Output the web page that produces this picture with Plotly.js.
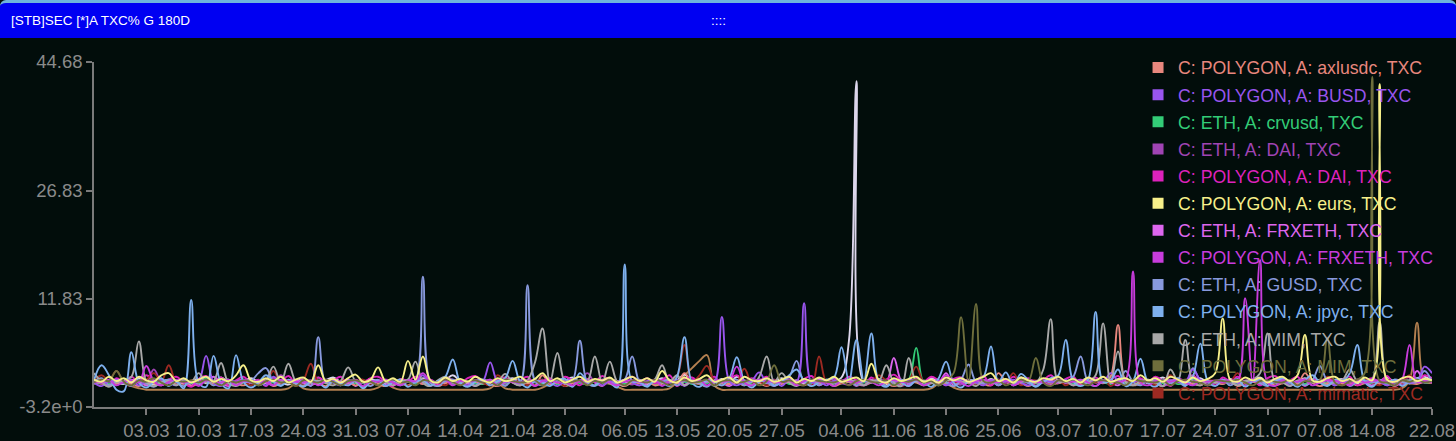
<!DOCTYPE html>
<html>
<head>
<meta charset="utf-8">
<script src="https://cdn.plot.ly/plotly-3.0.1.min.js"></script>
<style>
  html, body { margin:0; padding:0; background:#020d0b; overflow:hidden; }
  #wrap { position:relative; width:1456px; height:441px; background:#020d0b; }
  #hdr { position:absolute; left:0; top:0; width:1456px; height:38px; background:#0000f2;
         border-top:3px solid #6fb4dc; box-sizing:border-box; border-radius:6px 6px 0 0;
         font-family:"Liberation Sans", Arial, sans-serif; color:#fff; font-size:13.5px; z-index:5; }
  #hdr .t { position:absolute; left:11px; top:10px; }
  #hdr .d { position:absolute; left:711px; top:10px; }
  #chart { position:absolute; left:0; top:0; width:1456px; height:441px; }
</style>
</head>
<body>
<div id="wrap">
  <div id="chart"></div>
  <div id="hdr"><span class="t">[STB]SEC [*]A TXC% G 180D</span><span class="d">::::</span></div>
</div>
<script>
// ---------- data ----------
const startDate = '2023-02-24';
const nDays = 180;

const tickDates = ['2023-03-03','2023-03-10','2023-03-17','2023-03-24','2023-03-31','2023-04-07','2023-04-14',
  '2023-04-21','2023-04-28','2023-05-06','2023-05-13','2023-05-20','2023-05-27','2023-06-04','2023-06-11',
  '2023-06-18','2023-06-25','2023-07-03','2023-07-10','2023-07-17','2023-07-24','2023-07-31','2023-08-07',
  '2023-08-14','2023-08-22'];
const tickLabels = ['03.03','10.03','17.03','24.03','31.03','07.04','14.04','21.04','28.04','06.05','13.05',
  '20.05','27.05','04.06','11.06','18.06','25.06','03.07','10.07','17.07','24.07','31.07','07.08','14.08','22.08'];

const yTickVals = [-3.2, 11.83, 26.83, 44.68];
const yTickText = ['-3.2e+0', '11.83', '26.83', '44.68'];

const seriesNames = [
  'C: POLYGON, A: axlusdc, TXC','C: POLYGON, A: BUSD, TXC','C: ETH, A: crvusd, TXC','C: ETH, A: DAI, TXC',
  'C: POLYGON, A: DAI, TXC','C: POLYGON, A: eurs, TXC','C: ETH, A: FRXETH, TXC','C: POLYGON, A: FRXETH, TXC',
  'C: ETH, A: GUSD, TXC','C: POLYGON, A: jpyc, TXC','C: ETH, A: MIM, TXC','C: POLYGON, A: MIM, TXC',
  'C: POLYGON, A: mimatic, TXC'];
const extraNames = ['C: ETH, A: USDC, TXC', 'C: POLYGON, A: USDC, TXC'];

const axlusdc = [
 0.0,0.3,-0.2,0.1,0.4,0.0,-0.3,0.2,0.1,-0.2,
 0.3,0.0,0.2,-0.3,0.1,0.4,0.0,-0.2,0.3,0.1,
 -0.2,0.2,0.0,0.4,-0.3,0.1,0.3,0.0,-0.2,0.2,
 0.1,-0.3,0.3,0.0,0.2,-0.2,0.4,0.1,0.0,-0.3,
 0.2,0.1,-0.2,0.3,0.0,0.4,-0.3,0.1,0.2,0.0,
 -0.2,0.3,0.1,0.0,-0.3,0.2,0.4,0.0,0.1,-0.2,
 1.2,0.0,0.2,-0.3,0.1,0.3,0.0,-0.2,0.4,0.1,
 0.0,-0.3,0.2,0.1,0.3,-0.2,0.0,0.4,0.1,1.5,
 0.2,0.0,-0.3,0.3,0.1,0.0,0.2,-0.2,0.4,0.1,
 -0.3,0.2,0.0,0.3,0.1,-0.2,0.4,0.0,0.2,-0.3,
 0.1,0.3,0.0,-0.2,0.2,0.4,0.1,-0.3,0.0,0.3,
 0.2,-0.2,0.1,0.4,0.0,-0.3,0.3,0.1,0.2,0.0,
 -0.2,1.5,0.3,0.0,0.1,-0.3,0.2,0.4,0.0,0.1,
 0.3,-0.2,0.0,0.2,0.4,0.1,1.0,8.2,0.3,-0.2,
 0.1,0.3,0.0,-0.3,0.2,0.4,0.1,0.0,-0.2,0.3,
 0.2,0.0,0.4,-0.3,0.1,0.3,0.0,0.2,-0.2,0.1,
 0.4,0.0,1.5,0.2,-0.3,0.1,0.3,0.0,0.2,-0.2,
 0.1,0.4,0.0,0.3,-0.3,0.2,0.1,0.0,0.3,0.2];

const busd = [
 0.2,-0.3,0.4,0.6,0.2,0.5,-0.2,0.3,0.4,0.6,
 0.2,-0.2,0.5,0.3,0.4,3.9,0.2,-0.3,0.5,0.3,
 0.6,0.2,0.4,-0.2,1.0,0.3,0.5,0.2,-0.3,0.4,
 0.3,0.6,0.2,-0.2,0.5,0.4,0.3,0.2,0.6,-0.2,
 0.4,0.3,0.5,0.2,1.2,-0.3,0.4,0.6,0.2,0.3,
 -0.2,0.5,0.4,3.0,0.3,0.2,0.6,-0.2,0.4,0.3,
 0.5,0.2,-0.3,0.4,0.6,0.3,0.2,0.5,-0.2,0.4,
 0.3,0.6,0.2,-0.2,0.4,0.5,0.3,0.2,0.6,-0.3,
 0.4,0.3,0.5,0.2,9.3,0.4,-0.2,0.3,0.5,1.6,
 0.2,0.4,-0.3,0.6,0.3,11.2,0.2,0.4,-0.2,0.5,
 0.3,0.6,0.2,-0.2,0.4,0.5,0.3,0.2,-0.3,0.6,
 0.4,0.3,0.2,0.5,-0.2,0.4,0.6,0.3,0.2,-0.2,
 0.5,0.4,0.3,0.6,0.2,-0.2,0.4,0.5,0.3,0.2,
 0.6,-0.2,0.4,0.3,0.5,0.2,1.5,0.4,-0.2,0.3,
 0.5,0.2,0.6,-0.3,0.4,0.3,0.2,2.0,0.5,-0.2,
 0.4,0.6,0.3,0.2,-0.2,0.5,0.4,0.3,0.2,0.6,
 -0.2,0.4,0.5,0.3,0.2,0.6,-0.2,0.4,0.3,0.5,
 0.2,0.6,0.3,-0.2,0.4,0.5,0.2,0.3,2.4,1.5];

const crvusd = [
 0.1,0.2,0.0,0.3,0.1,0.6,0.2,0.0,0.3,0.1,
 0.2,0.0,0.4,0.1,0.2,0.8,0.0,0.3,0.1,0.2,
 0.4,0.1,0.0,0.3,0.2,0.1,0.5,0.0,0.2,0.3,
 0.9,0.1,0.2,0.0,0.3,0.1,0.4,0.2,0.0,0.3,
 0.1,0.2,0.6,0.0,0.3,0.1,0.2,0.4,0.0,0.2,
 0.3,0.1,0.0,0.4,0.2,0.1,0.3,0.0,0.5,0.2,
 0.1,0.3,0.0,0.2,0.4,0.1,0.0,0.3,0.2,0.1,
 0.4,0.0,0.2,0.1,0.3,0.0,0.2,0.5,0.1,0.3,
 0.0,0.2,0.1,0.4,0.0,0.3,0.2,0.1,0.0,0.3,
 0.2,0.1,0.4,0.0,0.2,0.3,0.1,0.0,0.4,0.2,
 0.1,0.3,0.0,0.2,0.5,0.1,0.3,0.0,0.2,0.6,
 5.0,0.2,0.1,0.3,0.0,0.2,0.4,0.1,0.0,0.3,
 0.2,0.1,0.5,0.0,0.3,0.2,0.1,0.4,0.0,0.2,
 0.3,0.0,0.2,0.1,0.4,0.2,0.0,0.3,0.1,0.2,
 0.0,0.4,0.2,0.1,0.3,0.0,0.2,0.8,0.1,0.3,
 0.2,0.0,0.3,0.1,0.2,0.4,0.0,0.2,0.1,0.3,
 0.1,0.2,0.0,0.4,0.2,0.1,0.3,0.0,0.2,0.5,
 0.2,0.1,0.3,0.0,0.2,0.4,0.1,0.6,0.2,0.3];

const ethDai = [
 0.2,0.4,0.1,0.6,0.3,-0.1,0.5,0.2,2.0,0.3,
 0.1,0.4,0.6,0.2,-0.1,0.5,0.3,0.2,0.4,0.1,
 0.6,0.3,-0.1,0.4,0.2,1.2,0.3,0.5,0.1,0.4,
 0.2,0.6,0.3,-0.1,0.4,0.2,0.5,0.3,0.1,0.6,
 0.3,-0.1,0.5,0.2,0.4,0.6,0.1,0.3,-0.1,0.5,
 0.2,0.4,0.3,0.6,0.1,-0.1,0.5,0.2,0.4,0.3,
 0.6,0.1,0.3,-0.1,0.5,0.4,1.5,0.2,0.3,0.6,
 0.1,0.4,-0.1,0.5,0.3,0.2,0.6,0.4,0.1,-0.1,
 0.5,0.3,0.2,0.6,0.4,0.1,0.3,-0.1,0.5,0.2,
 0.4,0.6,0.1,0.3,-0.1,0.5,0.2,0.4,0.3,0.6,
 0.1,-0.1,0.5,0.3,0.2,0.4,0.6,0.1,0.3,-0.1,
 0.5,0.2,0.4,0.3,0.6,0.1,-0.1,0.5,0.2,0.4,
 0.3,0.6,0.1,0.4,-0.1,0.5,0.3,0.2,0.6,0.4,
 0.1,0.3,-0.1,0.5,0.2,0.4,0.6,0.1,0.3,-0.1,
 0.5,0.4,0.2,0.3,0.6,0.1,-0.1,0.5,0.3,0.2,
 0.4,0.6,0.1,-0.1,0.5,0.3,0.2,0.4,0.6,0.1,
 0.3,-0.1,0.5,0.2,0.4,0.6,0.1,0.3,-0.1,0.5,
 0.2,0.4,0.3,0.6,0.1,-0.1,0.5,0.3,0.2,0.4];

const polyDai = [
 0.5,0.1,-0.3,0.8,0.2,1.0,0.3,1.2,0.4,-0.2,
 0.6,1.0,0.2,-0.4,0.7,1.1,0.3,0.9,-0.2,0.5,
 1.0,0.2,0.6,-0.3,0.8,0.4,1.1,0.1,0.7,-0.2,
 0.9,0.3,0.5,1.0,-0.2,0.6,0.2,0.8,1.0,0.3,
 -0.3,0.7,0.4,1.0,0.2,0.6,-0.2,0.9,0.5,0.1,
 0.8,1.1,0.3,-0.2,0.6,0.9,0.2,0.5,1.0,-0.3,
 0.4,0.8,0.2,1.0,0.5,-0.2,0.7,0.3,1.1,0.4,
 -0.2,0.6,1.0,0.3,0.8,0.1,0.5,1.2,-0.3,0.7,
 0.9,0.2,0.5,1.0,-0.2,0.6,1.2,0.3,0.8,0.4,
 1.0,-0.3,0.5,0.9,0.2,0.7,1.1,-0.2,0.4,0.8,
 0.3,1.0,0.5,-0.2,0.9,0.2,0.6,1.3,0.4,-0.3,
 0.8,0.3,1.0,0.5,-0.2,0.7,0.9,0.2,0.5,1.1,
 -0.2,0.6,0.3,1.0,0.4,0.8,-0.3,0.5,1.2,0.2,
 0.7,1.0,-0.2,0.4,0.9,0.3,0.6,1.1,-0.2,0.5,
 0.8,0.2,1.0,0.4,-0.3,0.7,0.5,1.2,0.2,0.6,
 -0.2,0.9,0.4,1.0,0.3,0.6,-0.2,0.8,1.1,0.2,
 0.5,1.0,-0.3,0.7,0.4,0.9,0.2,0.6,1.0,-0.2,
 0.4,0.8,0.3,1.1,-0.2,0.6,0.9,0.3,1.2,0.8];

const eurs = [
 0.6,0.3,1.0,0.4,0.8,0.2,1.0,0.5,0.3,1.2,
 1.5,0.4,0.8,0.2,0.6,1.0,0.3,0.7,0.4,1.2,
 2.6,0.5,0.3,0.8,0.4,1.0,0.2,0.6,0.9,0.3,
 2.6,0.4,0.7,0.2,0.8,1.3,0.3,0.6,2.3,0.4,
 0.8,0.3,3.2,0.6,3.8,0.5,0.2,0.9,0.4,0.7,
 0.3,1.0,0.5,0.2,0.8,0.4,0.6,1.0,0.3,0.7,
 1.5,0.4,0.8,0.2,0.6,1.0,0.3,0.7,0.5,0.9,
 0.2,0.6,1.0,0.4,0.8,0.3,1.8,0.5,0.2,0.9,
 0.4,0.7,1.2,0.3,0.6,0.9,0.2,1.0,0.5,0.4,
 0.8,0.3,0.6,1.0,0.2,0.7,0.4,0.9,0.5,1.0,
 0.3,0.6,0.9,0.4,2.8,0.5,0.2,0.8,0.4,0.7,
 1.0,0.3,0.6,0.2,0.9,0.5,0.8,0.3,0.6,1.0,
 1.5,0.4,0.7,0.2,0.9,0.5,0.3,0.8,0.6,1.0,
 0.4,0.7,0.2,0.9,0.5,1.0,0.3,0.6,0.8,0.4,
 1.2,0.5,0.8,0.3,1.0,0.6,0.2,0.9,0.4,0.7,
 1.5,9.1,0.6,0.3,0.9,0.5,0.8,0.2,0.7,1.0,
 0.4,1.2,6.8,0.5,0.3,0.8,1.0,0.4,0.7,0.2,
 0.9,0.5,41.6,0.6,0.3,0.8,1.0,0.4,0.7,0.5];

const ethFrxeth = [
 0.3,0.5,-0.2,0.4,0.2,0.6,0.3,-0.2,0.5,0.4,
 0.2,0.3,0.6,-0.2,0.4,0.5,1.0,0.2,-0.3,0.4,
 0.6,0.3,0.2,0.5,-0.2,0.4,0.3,0.6,0.2,-0.2,
 0.4,0.5,0.3,0.2,0.6,-0.3,0.4,0.3,0.5,0.2,
 -0.2,0.6,0.4,0.3,0.2,0.5,-0.2,0.4,0.6,0.3,
 0.2,-0.3,0.5,0.4,0.3,0.6,0.2,-0.2,0.4,0.5,
 0.3,0.2,0.6,-0.2,0.4,0.3,0.5,0.2,-0.3,0.6,
 0.4,0.3,0.2,0.5,-0.2,0.4,0.6,0.3,0.2,-0.2,
 0.5,0.4,0.3,0.6,0.2,-0.3,0.4,0.5,0.3,0.2,
 0.6,-0.2,0.4,0.3,0.5,0.2,-0.2,0.6,0.4,0.3,
 0.2,0.5,-0.3,0.4,0.6,0.3,0.2,3.6,0.4,-0.2,
 0.5,0.3,0.6,0.2,1.5,-0.2,0.4,0.5,0.3,0.2,
 0.6,-0.2,0.4,0.3,0.5,0.2,-0.3,0.6,0.4,0.3,
 0.2,0.5,-0.2,0.4,0.6,0.3,0.2,-0.2,0.5,0.4,
 0.3,0.6,0.2,-0.3,0.4,0.5,0.3,0.2,0.6,-0.2,
 0.4,0.3,0.5,0.2,-0.2,0.6,0.4,0.3,0.2,0.5,
 -0.3,0.4,0.6,0.3,0.2,0.5,-0.2,0.4,0.3,0.6,
 0.2,-0.2,0.5,0.4,0.3,0.6,0.2,1.8,0.4,0.3];

const polyFrxeth = [
 0.4,0.2,0.6,-0.2,0.3,0.5,0.2,2.5,0.4,-0.2,
 0.3,0.6,0.2,0.4,-0.3,0.5,0.3,0.2,0.6,-0.2,
 0.4,0.3,0.5,0.2,-0.2,0.6,0.4,0.3,0.2,0.5,
 -0.2,0.4,0.6,0.3,0.2,0.5,-0.3,0.4,0.3,0.6,
 0.2,-0.2,0.5,0.4,1.5,0.3,0.2,0.6,-0.2,0.4,
 0.3,0.5,0.2,0.6,-0.2,0.4,0.3,0.2,0.5,-0.3,
 0.4,0.6,0.2,0.3,-0.2,0.5,0.4,0.3,0.6,0.2,
 -0.2,0.4,0.5,0.3,0.2,0.6,-0.3,0.4,0.3,0.5,
 0.2,0.6,-0.2,0.4,0.3,0.5,2.4,0.2,-0.2,0.6,
 0.4,0.3,0.2,0.5,-0.2,0.4,0.6,0.3,0.2,-0.3,
 0.5,0.4,0.2,0.6,0.3,-0.2,0.4,0.5,0.3,0.2,
 0.6,-0.2,0.4,0.3,1.2,0.5,0.2,-0.3,0.4,0.6,
 0.3,0.2,0.5,-0.2,0.4,0.6,0.3,0.2,-0.2,0.5,
 0.4,0.3,0.6,0.2,-0.3,0.5,0.4,0.3,0.6,15.6,
 0.2,-0.2,0.4,0.5,0.3,0.6,0.2,-0.2,0.4,0.3,
 0.5,0.2,0.6,0.4,11.9,0.3,17.2,0.2,-0.3,0.5,
 0.4,0.3,0.6,-0.2,0.2,0.5,0.4,0.3,-0.2,0.6,
 0.2,0.4,0.5,0.3,-0.2,0.6,5.4,0.3,0.4,0.2];

const gusd = [
 0.3,0.8,-0.2,0.4,0.2,-0.3,0.5,0.1,-0.4,0.3,
 0.6,0.2,-0.3,0.4,0.1,0.5,-0.2,0.3,0.6,-0.1,
 0.2,0.4,1.5,2.2,0.3,-0.2,0.4,0.1,0.5,-0.3,
 6.5,0.2,0.4,-0.2,0.3,0.5,0.1,-0.3,0.4,0.2,
 0.6,-0.2,0.3,0.5,14.9,0.2,-0.3,0.4,0.6,0.1,
 0.3,-0.2,0.5,0.2,0.4,-0.3,0.6,0.2,13.7,0.4,
 -0.2,0.3,0.5,0.1,0.4,6.0,0.2,-0.3,0.5,0.3,
 0.1,0.6,3.8,0.2,-0.3,0.4,0.3,0.6,-0.2,0.4,
 0.3,0.1,-0.4,0.5,0.2,0.4,0.6,-0.2,0.3,0.5,
 0.2,-0.3,0.4,1.0,3.2,0.3,0.5,-0.2,0.4,0.1,
 0.3,0.6,-0.2,0.4,0.2,0.5,-0.3,0.3,0.6,0.1,
 0.4,-0.2,0.3,0.5,0.2,-0.3,0.6,2.7,0.3,0.1,
 0.4,-0.2,0.5,0.3,0.6,0.1,-0.3,0.4,0.2,0.5,
 0.3,1.0,3.8,0.2,-0.3,0.4,0.6,0.2,1.8,0.3,
 -0.2,0.5,0.3,0.6,0.1,0.4,-0.3,2.2,0.5,0.3,
 0.2,0.6,-0.2,0.4,0.3,0.5,0.1,-0.3,0.4,0.6,
 0.2,0.3,-0.2,0.5,2.5,0.4,0.1,0.6,-0.3,0.3,
 0.5,0.2,0.4,-0.2,0.6,0.3,0.1,0.4,1.8,0.3];

const jpyc = [
 0.5,2.6,1.2,-0.8,-1.0,4.4,0.2,-0.5,0.3,0.8,
 -0.3,0.4,-0.6,11.65,0.2,-0.4,3.9,0.1,-0.6,4.0,
 0.3,-0.5,0.2,1.2,0.4,-0.3,0.6,0.1,-0.4,0.3,
 0.2,-0.5,0.5,0.1,-0.2,0.4,-0.6,0.3,0.5,-0.3,
 0.2,0.6,-0.4,0.3,0.5,-0.2,0.4,1.0,3.4,0.2,
 -0.4,0.3,0.6,-0.2,0.4,0.8,3.2,0.3,-0.5,0.4,
 0.2,-0.3,0.5,0.7,-0.4,1.5,0.3,-0.2,0.6,0.2,
 -0.5,16.6,0.4,0.3,-0.4,0.6,0.2,-0.3,1.0,6.5,
 0.2,-0.4,0.5,0.3,-0.2,0.8,3.7,0.4,-0.5,0.3,
 0.6,-0.2,0.3,1.2,2.0,0.4,-0.3,0.2,0.6,0.9,
 5.1,0.4,6.1,0.5,7.0,0.3,-0.4,0.6,0.2,-0.3,
 0.5,0.3,-0.4,0.8,3.1,0.2,-0.5,0.4,0.6,1.0,
 5.2,0.3,1.6,-0.2,1.4,0.5,-0.4,0.3,0.8,1.2,
 6.1,0.4,-0.3,0.6,10.0,0.3,0.5,2.0,-0.3,0.4,
 3.5,0.2,-0.4,0.5,0.3,0.8,-0.2,1.0,5.6,0.4,
 -0.3,0.5,0.2,0.7,-0.4,0.3,0.6,-0.2,0.4,0.8,
 0.3,-0.4,0.5,1.2,0.2,-0.3,0.6,0.4,1.5,5.4,
 0.3,-0.4,0.5,0.2,0.6,-0.3,0.4,0.8,0.2,0.5];

const ethMim = [
 1.5,0.3,-0.4,0.2,0.5,1.0,5.9,0.4,-0.3,0.2,
 0.4,-0.2,0.6,0.3,1.5,0.2,0.4,2.9,0.1,-0.3,
 0.3,0.5,-0.2,0.4,2.4,0.2,2.8,0.3,-0.3,0.2,
 0.5,0.1,-0.2,0.4,2.3,0.3,-0.4,0.2,0.5,0.3,
 -0.2,0.4,0.6,3.1,0.2,-0.3,0.5,1.0,0.3,0.2,
 0.4,-0.3,0.2,0.5,0.3,1.4,0.2,-0.2,0.5,3.0,
 7.7,0.3,4.3,0.2,-0.3,0.5,0.4,3.8,0.2,3.1,
 0.3,-0.2,0.4,0.5,0.2,0.6,2.6,0.3,1.2,-0.2,
 0.4,0.2,0.5,-0.3,0.3,0.6,0.2,0.4,-0.2,1.0,
 3.8,0.3,1.5,0.2,-0.3,0.4,0.5,0.2,0.6,-0.2,
 0.4,0.5,0.3,-0.2,0.5,0.4,2.6,0.2,-0.3,3.6,
 0.3,0.5,0.2,-0.2,0.4,0.6,0.3,0.2,-0.3,0.5,
 0.2,0.4,0.6,-0.2,0.3,0.5,0.2,2.0,9.0,0.3,
 0.4,-0.2,0.5,0.3,1.2,8.4,0.2,4.5,0.3,-0.2,
 0.4,0.6,0.2,-0.3,2.0,0.5,6.1,0.3,-0.2,0.4,
 0.2,0.5,0.3,-0.2,0.4,0.6,1.5,7.0,0.3,0.2,
 -0.3,0.5,0.4,0.2,0.6,-0.2,0.3,0.5,2.0,0.4,
 0.2,0.6,8.6,0.3,-0.2,0.4,0.5,0.2,0.6,0.3];

const polyMim = [
 0.2,0.6,0.4,1.8,0.3,-0.2,0.5,0.3,0.8,0.2,
 -0.2,0.4,0.3,0.5,0.2,0.6,0.3,-0.2,0.4,0.2,
 0.5,0.3,-0.2,0.4,0.6,0.2,0.3,-0.3,0.5,0.4,
 0.2,0.6,0.3,-0.2,0.4,0.5,0.2,0.3,-0.2,0.4,
 0.6,0.2,0.3,-0.2,0.5,0.4,0.2,0.6,0.3,-0.2,
 0.4,0.5,0.2,0.3,-0.2,0.6,0.4,0.2,0.3,0.5,
 -0.2,0.4,0.6,0.2,0.3,0.5,-0.2,0.4,0.2,0.6,
 0.3,-0.2,0.5,0.4,0.2,0.6,0.3,-0.2,0.4,0.5,
 0.2,0.3,0.6,-0.2,0.4,0.5,0.2,0.3,0.6,-0.2,
 0.4,2.6,0.3,0.5,0.2,-0.2,0.6,0.4,0.3,0.2,
 0.5,-0.2,0.4,0.6,0.3,0.2,0.5,-0.2,0.4,0.3,
 0.6,0.2,0.4,-0.2,0.5,1.5,9.25,0.3,11.1,0.4,
 0.2,0.5,-0.2,0.3,0.6,0.4,3.6,0.2,-0.3,0.5,
 0.3,0.6,0.2,-0.2,0.4,0.5,0.3,0.2,-0.2,0.6,
 0.4,0.3,0.2,0.5,-0.2,0.4,0.6,0.3,0.2,-0.2,
 0.5,0.4,0.3,0.6,0.2,-0.2,0.4,0.5,0.3,0.2,
 0.6,-0.2,0.4,0.3,0.5,6.3,0.2,-0.2,0.4,0.6,
 1.5,42.6,0.4,0.2,-0.2,0.5,0.3,0.6,0.2,0.4];

const mimatic = [
 0.3,1.2,0.5,1.8,0.2,-0.3,0.4,0.6,1.5,0.3,
 2.6,0.2,-0.2,0.5,0.3,0.4,-0.2,0.6,0.3,0.2,
 0.4,-0.2,0.5,0.3,1.8,0.2,0.4,-0.3,0.5,2.8,
 0.3,0.2,-0.2,0.5,0.4,0.3,0.6,-0.2,0.3,0.4,
 0.2,0.5,-0.3,0.4,0.6,0.2,0.3,-0.2,0.5,0.4,
 0.3,0.6,0.2,-0.2,1.2,0.4,0.3,0.5,-0.2,0.3,
 0.6,0.2,0.4,-0.3,0.5,0.3,0.2,0.6,-0.2,0.4,
 0.3,0.5,0.2,-0.2,0.4,0.6,0.3,0.2,1.0,5.4,
 0.3,1.2,2.5,0.4,-0.2,0.5,0.3,2.1,0.2,0.4,
 -0.2,0.5,0.3,0.6,0.2,0.4,-0.3,3.8,0.3,0.5,
 0.2,0.6,-0.2,0.4,0.3,1.2,0.5,0.2,-0.3,0.4,
 2.4,0.3,0.5,-0.2,0.6,0.2,0.4,0.3,-0.2,0.5,
 0.3,0.6,0.2,1.5,-0.2,0.4,0.5,0.3,0.2,0.6,
 -0.2,0.4,0.3,0.5,0.2,1.0,-0.3,0.4,0.6,0.2,
 0.3,0.5,-0.2,0.4,1.2,0.2,0.6,0.3,-0.2,0.5,
 0.4,0.2,0.3,1.5,-0.2,0.6,0.4,0.3,0.2,0.5,
 -0.2,0.4,0.6,0.3,0.2,1.0,0.5,-0.2,0.3,0.4,
 0.6,0.2,-0.2,0.5,0.3,0.4,1.2,0.2,0.5,0.3];

const extraTan = [
 0.2,0.0,-0.2,0.0,0.1,-0.3,-0.6,-0.8,-0.8,-0.8,
 -0.8,-0.8,-0.8,-0.8,-0.8,-0.8,-0.8,-0.8,-0.8,-0.8,
 -0.8,-0.8,-0.8,-0.8,-0.8,-0.8,-0.6,0.0,-0.6,-0.8,
 -0.8,-0.8,-0.8,-0.8,-0.8,-0.8,-0.8,-0.8,-0.5,0.0,
 -0.5,-0.8,-0.8,-0.8,-0.8,-0.8,-0.8,-0.8,-0.8,-0.8,
 -0.8,-0.8,-0.8,-0.6,0.0,-0.6,-0.8,-0.8,-0.8,-0.8,
 -0.5,0.0,0.2,0.3,0.2,0.3,0.2,0.3,0.2,0.0,
 -0.4,-0.8,-0.8,-0.8,-0.8,-0.8,-0.8,-0.6,0.2,1.2,
 2.2,3.2,4.0,-0.2,-0.8,-0.8,-0.8,-0.8,-0.8,-0.8,
 -0.8,-0.8,-0.8,-0.8,-0.8,-0.8,-0.8,-0.8,-0.8,-0.8,
 -0.8,-0.8,-0.8,-0.8,-0.8,-0.8,-0.8,-0.8,-0.8,-0.8,
 -0.8,-0.8,-0.6,0.0,0.1,-0.5,-0.8,-0.8,-0.8,-0.8,
 -0.8,-0.8,-0.8,-0.8,-0.8,-0.8,-0.8,-0.8,-0.8,-0.8,
 -0.8,-0.8,-0.8,-0.8,-0.8,-0.8,-0.8,-0.8,-0.8,-0.8,
 -0.8,-0.8,-0.8,-0.8,-0.8,-0.8,-0.8,-0.8,-0.8,-0.8,
 -0.8,-0.8,-0.8,-0.8,-0.8,-0.8,-0.8,-0.8,-0.8,-0.8,
 -0.8,-0.8,-0.8,-0.8,-0.8,-0.8,-0.8,-0.8,-0.8,-0.8,
 -0.8,-0.8,-0.8,-0.8,-0.8,-0.6,0.5,8.5,0.3,0.2];

const extraWhite = [
 0.3,0.1,0.5,0.2,0.0,0.4,0.8,0.2,-0.1,0.3,
 0.6,0.2,0.0,0.4,0.7,0.1,0.3,0.9,0.2,0.0,
 0.4,0.8,0.3,0.1,0.5,0.2,-0.1,0.4,0.6,0.2,
 0.0,0.5,0.9,0.3,0.1,0.4,0.2,0.7,0.3,0.0,
 0.4,0.2,0.6,0.1,0.8,0.3,0.0,0.5,1.2,0.4,
 0.1,0.3,0.6,0.2,0.0,0.4,0.8,0.3,0.1,0.5,
 0.2,0.6,0.0,0.4,0.9,0.2,0.1,0.5,0.3,0.7,
 0.1,0.4,0.2,0.6,0.0,0.3,0.8,0.2,0.5,1.3,
 0.3,0.1,0.5,0.2,0.7,0.0,1.0,0.4,0.2,0.6,
 0.1,0.3,0.8,0.2,0.5,0.0,0.4,0.7,0.2,0.3,
 0.9,6.0,42.0,0.3,0.4,0.7,0.0,0.3,0.6,0.2,
 0.4,0.1,0.8,0.3,0.0,0.5,0.2,0.6,0.3,0.1,
 0.7,0.2,0.4,0.0,0.9,0.3,0.1,0.5,0.2,0.6,
 0.3,0.0,0.4,0.8,0.2,0.5,0.1,0.7,0.3,0.2,
 0.6,0.1,0.4,0.9,0.2,0.3,0.0,0.5,0.8,0.2,
 0.4,0.1,0.7,0.3,0.0,0.5,0.9,0.2,0.4,0.6,
 0.1,0.3,0.8,0.2,0.5,0.0,0.4,0.7,0.3,0.1,
 0.6,0.2,0.4,0.9,0.3,0.5,0.1,0.8,1.0,0.4];

const seriesValues = [axlusdc, busd, crvusd, ethDai, polyDai, eurs, ethFrxeth, polyFrxeth, gusd, jpyc, ethMim, polyMim, mimatic];
const extraValues = [extraTan, extraWhite];

// ---------- style ----------
const seriesColors = ['#e8877e','#9955ee','#33cc77','#a044b4','#dd22bb','#f7f08a','#dd66ee','#c83cdc',
  '#8899dd','#7eb0ee','#a8a8a8','#6e6e3c','#9c2a22'];
const extraColors = ['#b48050', '#dcd6ec'];

// dates
const dates = [];
{
  const d0 = new Date(startDate + 'T00:00:00Z');
  for (let i = 0; i < nDays; i++) {
    const d = new Date(d0.getTime() + i * 86400000);
    dates.push(d.toISOString().slice(0, 10));
  }
}

const traces = [];
extraValues.forEach((vals, i) => {
  traces.push({ x: dates, y: vals, type: 'scatter', mode: 'lines', name: extraNames[i], showlegend: false,
    line: { color: extraColors[i], width: 1.9, shape: 'spline', smoothing: 1.1 }, hoverinfo: 'skip' });
});
const drawOrder = [3,2,6,0,4,12,8,1,10,9,7,11,5];
drawOrder.forEach(i => {
  traces.push({ x: dates, y: seriesValues[i], type: 'scatter', mode: 'lines', name: seriesNames[i], showlegend: false,
    line: { color: seriesColors[i], width: 1.9, shape: 'spline', smoothing: 1.1 } });
});
// legend entries with square swatches
seriesNames.forEach((n, i) => {
  traces.push({ x: [null], y: [null], type: 'scatter', mode: 'markers',
    name: '<span style="color:' + seriesColors[i] + '">' + n + '</span>',
    legendgroup: 'g' + i,
    marker: { symbol: 'square', size: 11, color: seriesColors[i] }, showlegend: true, hoverinfo: 'skip' });
});

const layout = {
  width: 1456, height: 441,
  paper_bgcolor: '#020d0b', plot_bgcolor: '#020d0b',
  margin: { l: 94, r: 24, t: 62, b: 34, pad: 0 },
  font: { family: '"Liberation Sans", Arial, sans-serif', color: '#8a8a8a' },
  showlegend: true,
  legend: { x: 0.7803, xanchor: 'left', y: 1.036, yanchor: 'top', bgcolor: 'rgba(0,0,0,0)',
    traceorder: 'grouped', tracegroupgap: 1.1, maxheight: 0.98,
    font: { size: 17.7, family: '"Liberation Sans", Arial, sans-serif' }, itemclick: false },
  xaxis: {
    type: 'date', range: [dates[0], dates[nDays - 1]],
    tickvals: tickDates, ticktext: tickLabels,
    showgrid: false, zeroline: false, showline: true, linecolor: '#7a7a7a', linewidth: 1.5,
    ticks: 'outside', ticklen: 6, tickcolor: '#7a7a7a', tickwidth: 1.5,
    tickfont: { size: 18.5, color: '#8a8a8a' }
  },
  yaxis: {
    range: [-3.2, 44.68], tickvals: yTickVals, ticktext: yTickText,
    showgrid: false, zeroline: false, showline: true, linecolor: '#7a7a7a', linewidth: 1.5,
    ticks: 'outside', ticklen: 6, tickcolor: '#7a7a7a', tickwidth: 1.5,
    tickfont: { size: 18.5, color: '#8a8a8a' }
  }
};

Plotly.newPlot('chart', traces, layout, { displayModeBar: false });
</script>
</body>
</html>
